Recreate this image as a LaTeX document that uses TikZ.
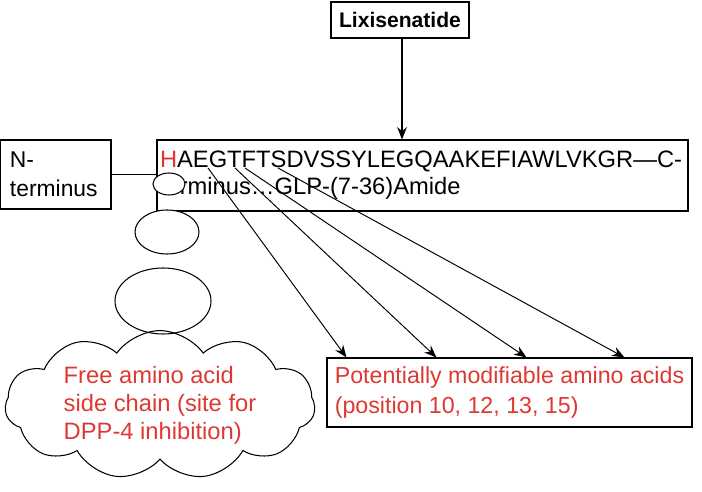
\documentclass[tikz,border=0pt]{standalone}
\usepackage{fontspec}
\setmainfont{Liberation Sans}
\usepackage{tikz}
\usepackage{xcolor}
\usetikzlibrary{shapes.geometric, shapes.symbols, arrows.meta, positioning, calc}
\definecolor{sitered}{RGB}{222,56,50}

\begin{document}
\begin{tikzpicture}[
  box/.style={draw, line width=0.6pt, inner sep=0pt},
  bubble/.style={draw, ellipse, fill=white, line width=0.6pt, inner sep=0pt},
  link/.style={line width=0.55pt, -{Stealth[length=7pt,width=5.5pt]}},
  txt/.style={font=\fontsize{13.5}{15.4}\selectfont}
]
\useasboundingbox (0,0) rectangle (14.04,9.82);

% Drug name
\node[box, minimum width=2.76cm, minimum height=0.72cm, font=\bfseries\fontsize{12}{14}\selectfont] (lix) at (8.0,9.42) {Lixisenatide};

% Sequence and N-terminus
\node[box, minimum width=10.62cm, minimum height=1.42cm, text width=10.5cm, align=left, txt] (seq) at (8.45,6.31)
  {\textcolor{sitered}{H}AEGTFTSDVSSYLEGQAAKEFIAWLVKGR---C-\\terminus\ldots GLP-(7-36)Amide};
\node[box, minimum width=2.22cm, minimum height=1.38cm, text width=1.82cm, align=left, font=\fontsize{13}{16.5}\selectfont] (nterm) at (1.11,6.33) {N-\\terminus};

\draw[line width=0.6pt, -{Stealth[length=7pt,width=5.5pt]}] (lix.south -| 8.04,0) -- (seq.north -| 8.04,0);
\draw[line width=0.6pt] (nterm.east) -- (seq.west |- nterm.east);

% Modifiable sites
\node[box, minimum width=7.3cm, minimum height=1.38cm, align=left, text=sitered, font=\fontsize{13.2}{17}\selectfont] (mods) at (10.19,1.97)
  {Potentially modifiable amino acids\\(position 10, 12, 13, 15)};

\coordinate (s1) at (4.16,6.46);
\coordinate (s2) at (4.70,6.46);
\coordinate (s3) at (4.90,6.46);
\coordinate (s4) at (5.56,6.46);
\foreach \s/\dx in {s1/0.4, s2/2.2, s3/4.0, s4/5.96} {
    \draw[link] (\s) -- ($(mods.north west)+(\dx,0)$);
}

% Thought bubbles
\node[bubble, minimum width=0.64cm, minimum height=0.44cm] (bub1) at (3.38,6.14) {};
\node[bubble, minimum width=1.28cm, minimum height=0.88cm] (bub2) at (3.34,5.18) {};
\node[bubble, minimum width=1.92cm, minimum height=1.32cm] (bub3) at (3.26,3.80) {};
\node[cloud, draw, line width=0.6pt, cloud puffs=11, cloud puff arc=110, aspect=2.4, minimum width=6.2cm, minimum height=2.5cm, inner sep=0pt, align=left, text=sitered, font=\fontsize{13.5}{16}\selectfont] (cloud) at (3.2,1.72)
  {Free amino acid\\side chain (site for\\DPP-4 inhibition)};
\end{tikzpicture}
\end{document}
